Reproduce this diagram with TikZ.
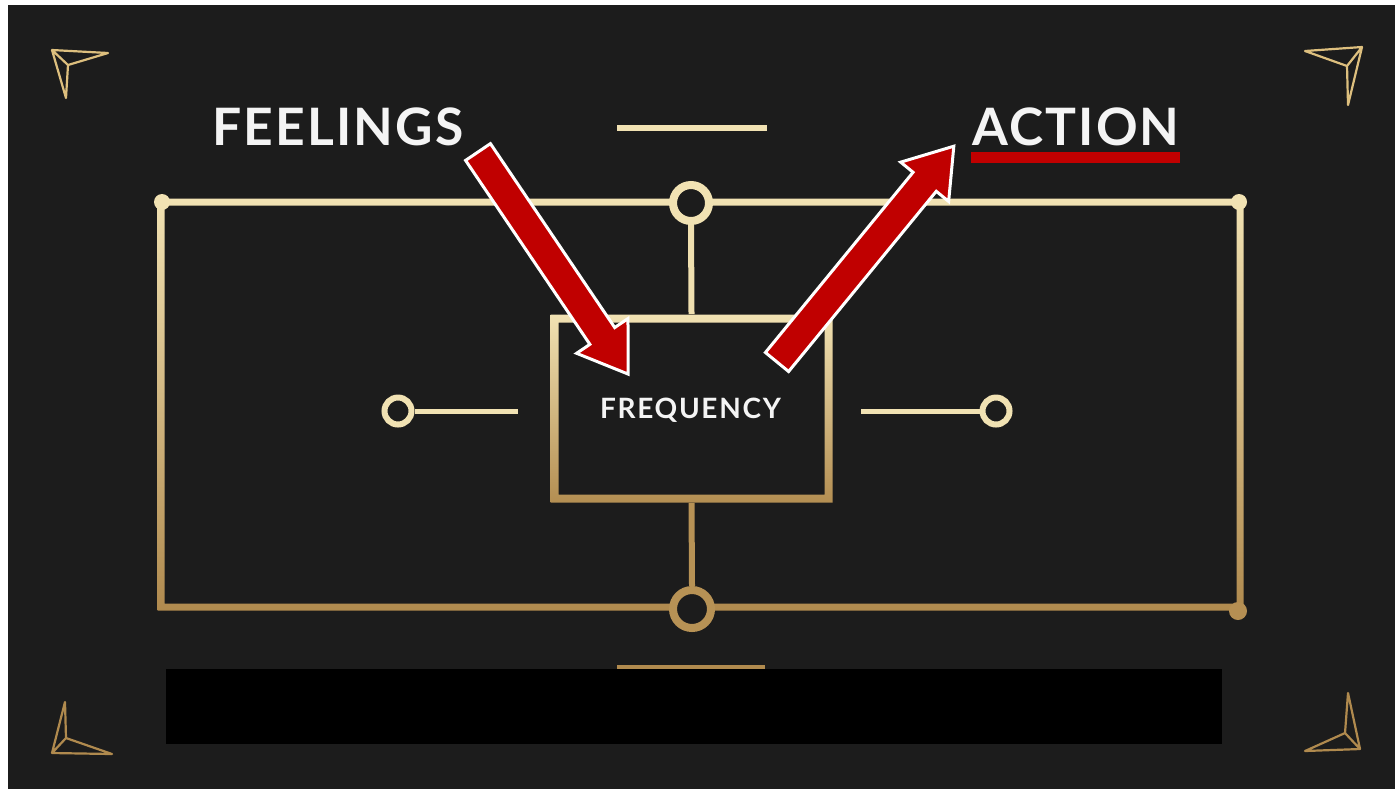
\documentclass[tikz,border=0pt]{standalone}
\usepackage{fontspec}
\setmainfont{Lato}
\newfontfamily\headfont{Lato}[LetterSpace=4.0]
\newfontfamily\boxfont{Lato}[LetterSpace=6.0]
\usetikzlibrary{calc}

\definecolor{bg}{HTML}{1C1C1C}
\definecolor{cream}{HTML}{F1E2B3}
\definecolor{goldmid}{HTML}{DDBF7E}
\definecolor{golddark}{HTML}{B08A4E}
\definecolor{arrowred}{HTML}{C00000}
\definecolor{inkwhite}{HTML}{F4F4F4}

\tikzset{
  ring/.style={circle, draw=#1, fill=bg, line width=4pt, inner sep=0pt},
  dot/.style={circle, fill=#1, inner sep=0pt, minimum size=8pt},
  stub/.style={draw=#1, line width=3pt},
  ornament/.style={draw=#1, line width=1.1pt, line join=round, line cap=round},
  bigarrow/.style={fill=arrowred, draw=white, line width=1.5pt, line join=miter},
  headline/.style={text=inkwhite, inner sep=0pt, anchor=base, font=\headfont\bfseries\fontsize{25.8}{28}\selectfont},
}

% fat outlined arrow from a named tail point, along an angle, with a length
\newcommand{\fatarrow}[3]{%
  \begin{scope}[shift={(#1)}, rotate=#2]
    \draw[bigarrow] (0,-15) -- (#3-46,-15) -- (#3-46,-31) -- (#3,0)
      -- (#3-46,31) -- (#3-46,15) -- (0,15) -- cycle;
  \end{scope}}

\begin{document}
\begin{tikzpicture}[x=0.5pt, y=-0.5pt]
  \useasboundingbox (0,0) rectangle (1395,789);
  \fill[white] (0,0) rectangle (1395,789);
  \fill[bg] (8,5) rectangle (1395,789);

  % corner ornaments
  \draw[ornament=goldmid] (52,50) -- (108,53) -- (68,65) -- cycle (52,50) -- (66,98) -- (68,65);
  \draw[ornament=goldmid] (1362,47) -- (1305,51) -- (1347,66) -- cycle (1362,47) -- (1348,105) -- (1347,66);
  \draw[ornament=golddark] (52,753) -- (65,702) -- (66,738) -- cycle (52,753) -- (112,754) -- (66,738);
  \draw[ornament=golddark] (1360,749) -- (1348,693) -- (1345,733) -- cycle (1360,749) -- (1305,751) -- (1345,733);

  % outer frame
  \shade[top color=cream, bottom color=golddark, even odd rule]
    (157.5,198.5) rectangle (1243.5,610.5) (164.5,205.5) rectangle (1236.5,603.5);
  \node[dot=cream] (tl) at (162,202) {};
  \node[dot=cream] (tr) at (1239,202) {};
  \node[dot=golddark!90!goldmid, minimum size=9pt] (br) at (1238,611) {};

  % short rules above and below
  \coordinate (ta) at (617,128); \coordinate (tb) at (767,128);
  \draw[stub=cream, line width=2.6pt] (ta) -- (tb);
  \coordinate (ba) at (617,668); \coordinate (bb) at (765,668);
  \draw[stub=golddark, line width=2.6pt] (ba) -- (bb);

  % central box
  \node[minimum width=141pt, minimum height=94pt, inner sep=0pt] (freq) at (691.5,408.5) {};
  \shade[top color=cream, bottom color=golddark!92!goldmid, even odd rule]
    (550.5,314.5) rectangle (832.5,502.5) (558.5,322.5) rectangle (824.5,494.5);
  \node[text=inkwhite, inner sep=0pt, anchor=base, font=\boxfont\bfseries\fontsize{14}{16}\selectfont]
    (freqlabel) at (690.5,418) {FREQUENCY};

  % circles on the frame and stubs to the box
  \node[ring=cream, minimum size=18pt] (ctop) at (691,203) {};
  \node[ring=golddark!85!goldmid, minimum size=19pt] (cbot) at (692,609) {};
  \draw[stub=cream!92!goldmid] (ctop.south) -- (freq.north);
  \draw[stub=golddark!85!goldmid] (freq.south) -- (cbot.north);

  % side pins
  \node[ring=cream, minimum size=13.5pt, line width=3pt] (lpin) at (398,411) {};
  \coordinate (lend) at (518,411);
  \draw[stub=cream, line width=2.5pt] (lpin.east) -- (lend);
  \node[ring=cream, minimum size=13.5pt, line width=3pt] (rpin) at (996,411) {};
  \coordinate (rend) at (861,411);
  \draw[stub=cream, line width=2.5pt] (rend) -- (rpin.west);

  % headings
  \node[headline] (feel) at (338,145) {FEELINGS};
  \node[headline] (act) at (1076,145) {ACTION};
  \fill[arrowred] (971,152) rectangle (1180,163);

  % red arrows into and out of the box
  \coordinate (a1) at (478,152);
  \coordinate (a2) at (777,362);
  \fatarrow{a1}{-55.95}{268}
  \fatarrow{a2}{50.67}{279}

  % covering band at the bottom
  \fill[black] (166,669) rectangle (1222,744);
\end{tikzpicture}
\end{document}
